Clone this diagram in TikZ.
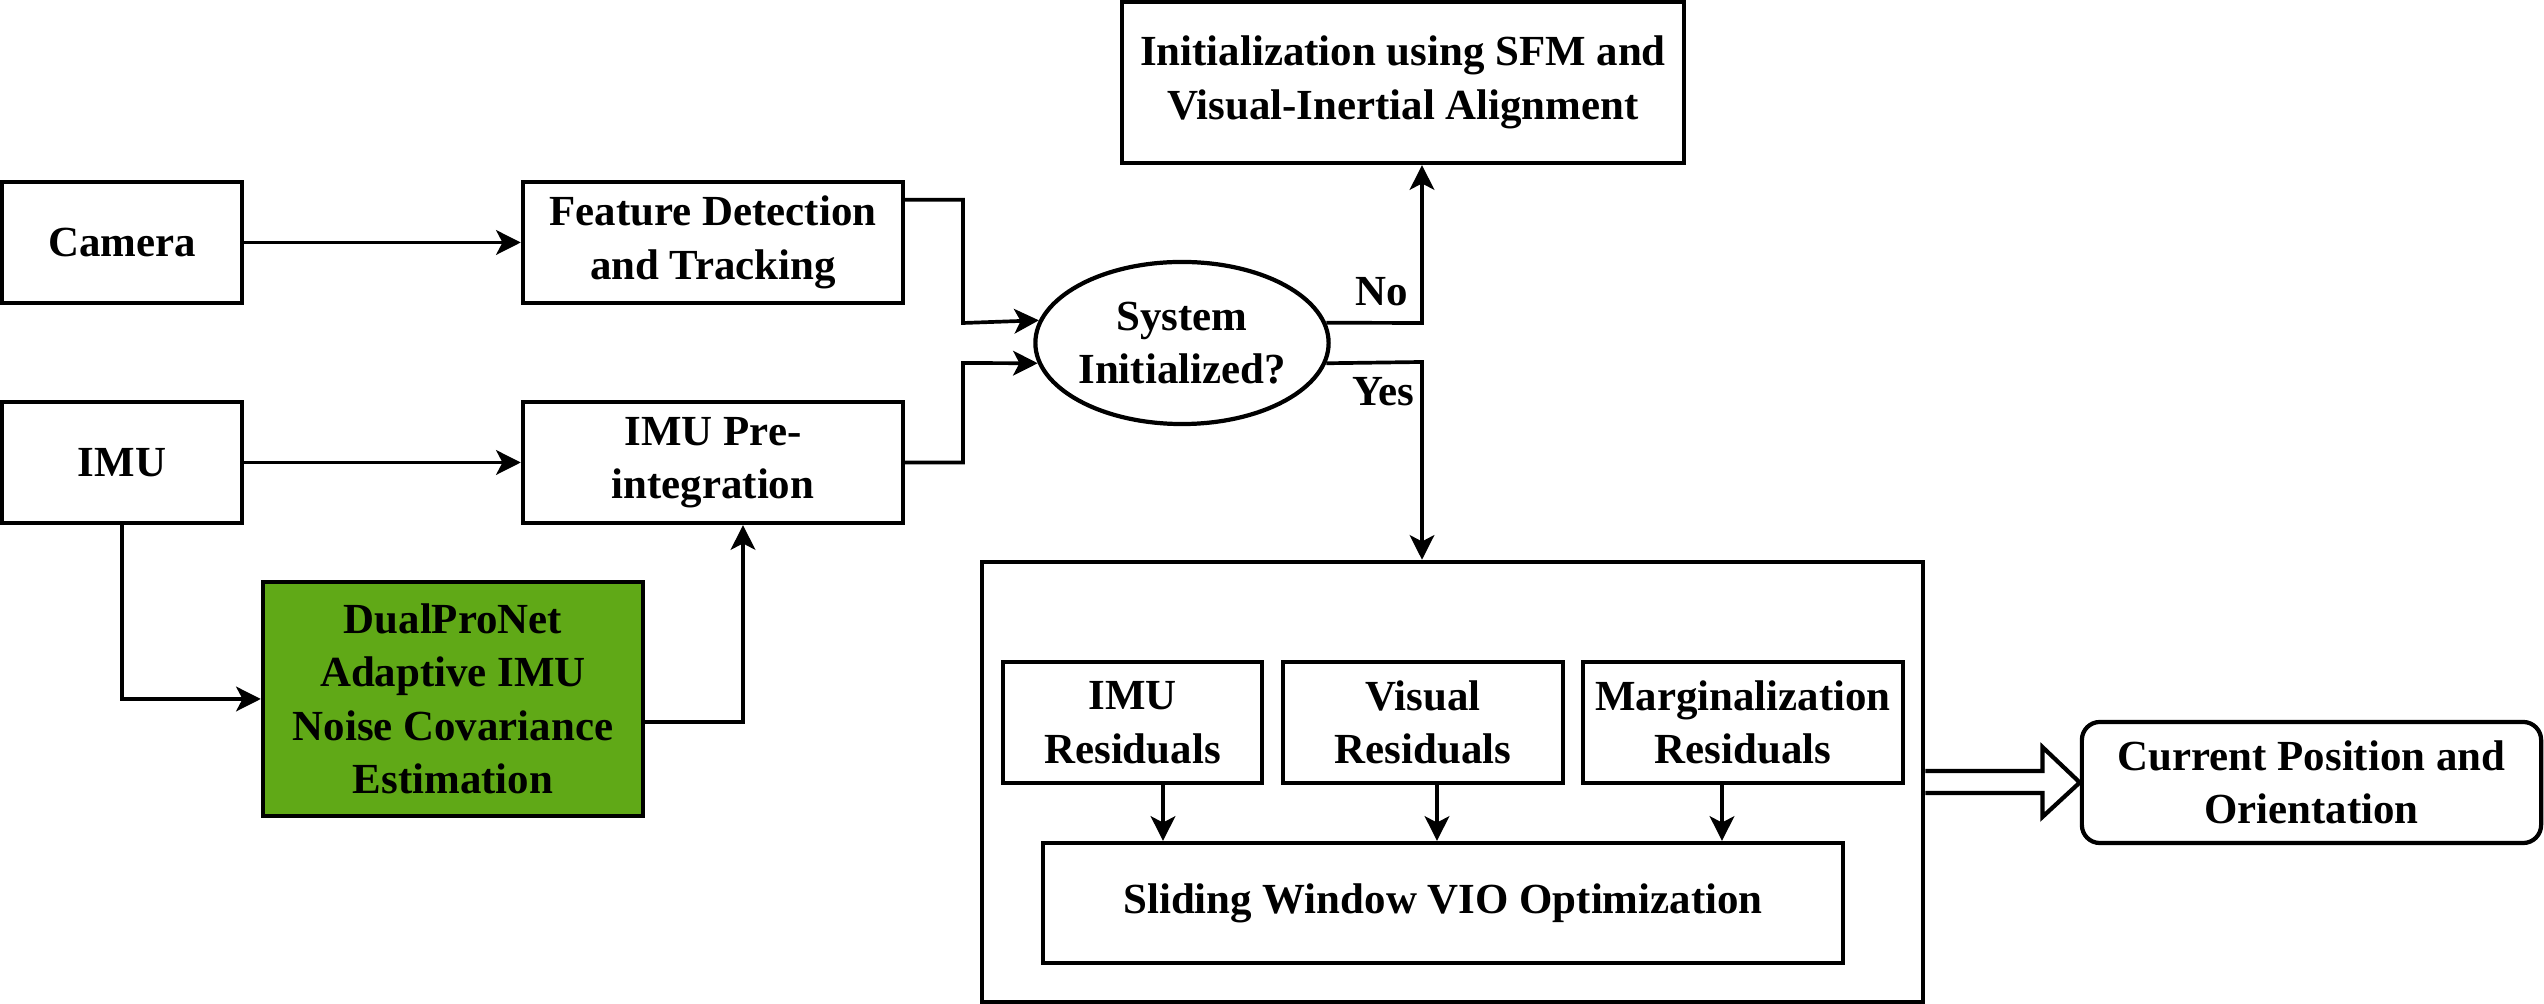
\documentclass[tikz,border=0pt]{standalone}
\usepackage{fontspec}
\setmainfont{Liberation Serif}
\usetikzlibrary{shapes.geometric,arrows.meta,calc}
\definecolor{dpgreen}{HTML}{60A917}
\begin{document}
\begin{tikzpicture}[x=0.01cm,y=-0.01cm,
  every node/.style={font=\fontsize{12.2pt}{15.2pt}\selectfont\bfseries, align=center, inner sep=0pt},
  box/.style={draw, line width=1.2pt, rectangle},
  arr/.style={draw, line width=1.05pt, -{Stealth[length=7pt,width=7pt,inset=1.8pt]}},
  line/.style={draw, line width=1.05pt}]
\useasboundingbox (0,0) rectangle (2544,1004);

% left column
\node[box, minimum width=2.40cm, minimum height=1.21cm] (cam) at (122,242.5) {Camera};
\node[box, minimum width=3.80cm, minimum height=1.21cm] (feat) at (713,242.5) {Feature Detection\\and Tracking};
\node[box, minimum width=2.40cm, minimum height=1.21cm] (imu) at (122,462.5) {IMU};
\node[box, minimum width=3.80cm, minimum height=1.21cm] (pre) at (713,462.5) {IMU Pre-\\integration};
\node[box, fill=dpgreen, minimum width=3.80cm, minimum height=2.34cm] (dual) at (453,699) {DualProNet\\Adaptive IMU\\Noise Covariance\\Estimation};

% decision and init
\node[draw, line width=1.2pt, ellipse, minimum width=2.81cm, minimum height=1.62cm] (sys) at (1182,343) {System\\Initialized?};
\node[box, minimum width=5.62cm, minimum height=1.61cm] (init) at (1403,82.5) {Initialization using SFM and\\Visual-Inertial Alignment};

% optimization block
\node[box, minimum width=9.41cm, minimum height=4.40cm] (big) at (1452.5,782) {};
\node[box, minimum width=2.59cm, minimum height=1.21cm] (imur) at (1132.5,722.5) {IMU\\Residuals};
\node[box, minimum width=2.80cm, minimum height=1.21cm] (visr) at (1423,722.5) {Visual\\Residuals};
\node[box, minimum width=3.20cm, minimum height=1.21cm] (marr) at (1743,722.5) {Marginalization\\Residuals};
\node[box, minimum width=8.00cm, minimum height=1.20cm] (slide) at (1443,903) {Sliding Window VIO Optimization};

\node[box, rounded corners=0.18cm, minimum width=4.59cm, minimum height=1.21cm] (cur) at (2311.5,782.5) {Current Position and\\Orientation};

% labels
\node (no) at (1382,292) {No};
\node (yes) at (1383,392) {Yes};

% coordinates for bends
\coordinate (fbend) at (963,323);
\coordinate (pbend) at (963,363);
\coordinate (nbend) at (1422,323);
\coordinate (ybend) at (1422,362);
\coordinate (dbend) at (743,722);

% connectors
\draw[arr] (cam) -- (feat);
\draw[arr] (imu) -- (pre);
\draw[arr] ($(feat.north east)+(0,20)$) -| (fbend) -- (sys.171.6);
\draw[arr] (pre.east) -| (pbend) -- (sys.188.4);
\draw[arr] (sys.8.4) -- (nbend) -- (nbend |- init.south);
\draw[arr] (sys.-8.4) -- (ybend) -- (ybend |- big.north);
\draw[arr] (imu.south) |- (dual.west);
\draw[arr] (dual.east |- dbend) -- (dbend) -- (dbend |- pre.south);
\draw[arr] (1163,0 |- imur.south) -- (1163,0 |- slide.north);
\draw[arr] (1437,0 |- visr.south) -- (1437,0 |- slide.north);
\draw[arr] (1722,0 |- marr.south) -- (1722,0 |- slide.north);

% hollow block arrow
\draw[line width=1.2pt, fill=white, line join=miter]
  ($(big.east)+(0,-11)$) -- ($(big.east)+(117,-11)$) -- ($(big.east)+(117,-35)$)
  -- (cur.west) -- ($(big.east)+(117,35)$) -- ($(big.east)+(117,11)$) -- ($(big.east)+(0,11)$);
\end{tikzpicture}
\end{document}
